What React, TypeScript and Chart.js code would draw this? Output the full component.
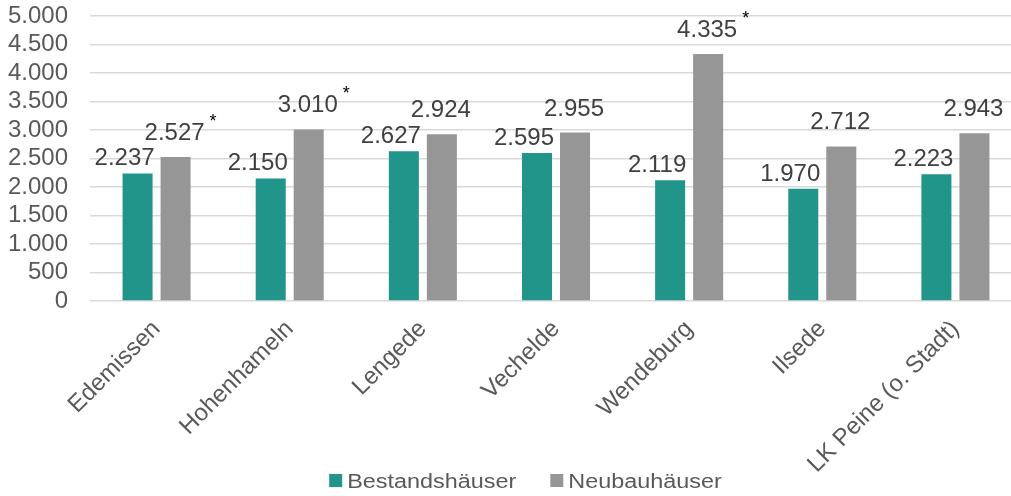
import React, { useEffect, useRef } from "react";
import { Chart, registerables } from "chart.js";

Chart.register(...registerables);

const categories = [
  "Edemissen",
  "Hohenhameln",
  "Lengede",
  "Vechelde",
  "Wendeburg",
  "Ilsede",
  "LK Peine (o. Stadt)",
];
const bestandValues = [2237, 2150, 2627, 2595, 2119, 1970, 2223];
const neubauValues = [2527, 3010, 2924, 2955, 4335, 2712, 2943];
const neubauMarks = ["*", "*", "", "", "*", "", ""];
const seriesNames = ["Bestandshäuser", "Neubauhäuser"];
const seriesColors = ["#21958A", "#969696"];
const yMin = 0;
const yMax = 5000;
const yStep = 500;

const FONT = "'Liberation Sans', Arial, sans-serif";
const FS = 24;

const fmt = (v: number) =>
  String(Math.round(v)).replace(/\B(?=(\d{3})+(?!\d))/g, ".");

// label placement style per series (offset from bar top-center)
const labelStyle = [
  { dx: -13, dy: -8 },
  { dx: -1, dy: -17 },
];

const valueLabelPlugin = {
  id: "valueLabels",
  afterDatasetsDraw(chart: any) {
    const ctx = chart.ctx;
    ctx.save();
    chart.data.datasets.forEach((ds: any, di: number) => {
      const meta = chart.getDatasetMeta(di);
      const st = labelStyle[di];
      meta.data.forEach((bar: any, i: number) => {
        const txt = fmt(ds.data[i]);
        const x = bar.x + st.dx;
        const y = bar.y + st.dy;
        ctx.font = `${FS}px ${FONT}`;
        ctx.fillStyle = "#404040";
        ctx.textAlign = "center";
        ctx.textBaseline = "alphabetic";
        ctx.fillText(txt, x, y);
        const mark = di === 1 ? neubauMarks[i] : "";
        if (mark) {
          const w = ctx.measureText(txt).width;
          ctx.font = `18px ${FONT}`;
          ctx.fillStyle = "#000000";
          ctx.textAlign = "left";
          ctx.fillText(mark, x + w / 2 + 5, y - 13);
        }
      });
    });
    ctx.restore();
  },
};

const legendPlugin = {
  id: "customLegend",
  afterDraw(chart: any) {
    const ctx = chart.ctx;
    ctx.save();
    const stretch = 1.17;
    const box = 13;
    const boxGap = 5;
    const itemGap = 34;
    ctx.font = `20px ${FONT}`;
    const widths = seriesNames.map((n) => ctx.measureText(n).width * stretch);
    const total =
      widths.reduce((a, b) => a + b, 0) +
      seriesNames.length * (box + boxGap) +
      itemGap * (seriesNames.length - 1);
    const centerX = 525.5;
    let x = centerX - total / 2;
    const baseline = 487.5;
    seriesNames.forEach((name, i) => {
      ctx.fillStyle = seriesColors[i];
      ctx.fillRect(x, baseline - 13.5, box, box);
      x += box + boxGap;
      ctx.save();
      ctx.translate(x, baseline);
      ctx.scale(stretch, 1);
      ctx.fillStyle = "#595959";
      ctx.textAlign = "left";
      ctx.textBaseline = "alphabetic";
      ctx.fillText(name, 0, 0);
      ctx.restore();
      x += widths[i] + itemGap;
    });
    ctx.restore();
  },
};

export default function App() {
  const ref = useRef<HTMLCanvasElement | null>(null);

  useEffect(() => {
    if (!ref.current) return;
    Chart.defaults.font.family = FONT;
    const chart = new Chart(ref.current, {
      type: "bar",
      data: {
        labels: categories,
        datasets: [
          {
            label: seriesNames[0],
            data: bestandValues,
            backgroundColor: seriesColors[0],
            barPercentage: 0.79,
            categoryPercentage: 0.571,
          },
          {
            label: seriesNames[1],
            data: neubauValues,
            backgroundColor: seriesColors[1],
            barPercentage: 0.79,
            categoryPercentage: 0.571,
          },
        ],
      },
      options: {
        responsive: false,
        animation: false,
        layout: { padding: { top: 0, left: 0, right: 0, bottom: 0 } },
        plugins: {
          legend: { display: false },
          tooltip: { enabled: false },
        },
        scales: {
          x: {
            grid: { display: false },
            border: { display: false },
            ticks: {
              autoSkip: false,
              maxRotation: 45,
              minRotation: 45,
              color: "#595959",
              font: { size: FS, family: FONT },
              padding: 6,
            },
            afterFit: (scale: any) => {
              scale.height = 195;
            },
          },
          y: {
            min: yMin,
            max: yMax,
            grid: { color: "#d9d9d9", lineWidth: 1.5, drawTicks: false },
            border: { display: false },
            ticks: {
              stepSize: yStep,
              autoSkip: false,
              color: "#595959",
              font: { size: FS, family: FONT, lineHeight: 1 },
              padding: 22,
              callback: (v: any) => fmt(Number(v)),
            },
            afterFit: (scale: any) => {
              scale.width = 90;
              scale.paddingTop = 16;
              scale.paddingBottom = 0;
            },
          },
        },
      },
      plugins: [valueLabelPlugin, legendPlugin],
    });
    return () => chart.destroy();
  }, []);

  return (
    <div
      style={{
        position: "fixed",
        left: 0,
        top: 0,
        width: 1011,
        height: 496,
        overflow: "hidden",
        background: "#ffffff",
      }}
    >
      <canvas
        ref={ref}
        width={1022}
        height={496}
        style={{ display: "block", width: 1022, height: 496 }}
      />
    </div>
  );
}
